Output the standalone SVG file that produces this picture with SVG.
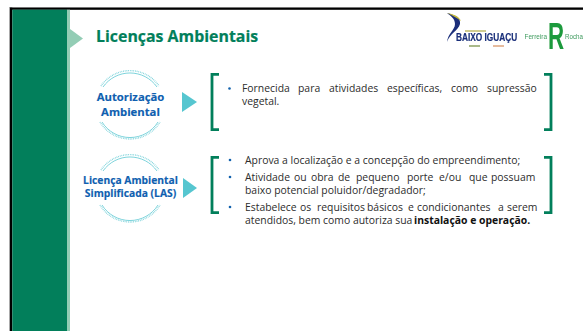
<svg xmlns="http://www.w3.org/2000/svg" width="583" height="331" viewBox="0 0 583 331">
<defs><filter id="soft" x="-5%" y="-5%" width="110%" height="110%"><feGaussianBlur stdDeviation="0.35"/></filter></defs>
<style>
text{font-family:"Open Sans","Noto Sans","Liberation Sans",sans-serif}
.b{font-size:10.4px;fill:#2c2c2c}
.lb{font-weight:700;fill:#0f5fb0;stroke:#0f5fb0;stroke-width:.15;text-anchor:middle}
.brk{fill:none;stroke:#027f5b;stroke-width:2.8}
.arc{fill:none;stroke:#5cc8d2;stroke-width:.8}
.arcd{fill:none;stroke:#7cd2da;stroke-width:1.4;stroke-dasharray:.8 .9}
.tri{fill:#56c6d0}
.dot{fill:#1262ad}
.lg{font-family:"Liberation Sans",sans-serif}
</style>
<rect width="583" height="331" fill="#fff"/>
<g id="frame">
<rect x="9" y="7" width="574" height="3" fill="#aaa"/>
<rect x="9" y="7" width="1.200" height="324" fill="#aaa"/>
<rect x="10" y="7.700" width="573" height="2" fill="#000"/>
<rect x="10" y="7.700" width="2.300" height="323.300" fill="#000"/>
<rect x="12.300" y="9.700" width="54.700" height="321.300" fill="#027f5b"/>
<rect x="67" y="9.700" width="3" height="321.300" fill="#93cdb5"/>
<polygon points="70,29 83,38.500 70,48" fill="#93cdb5"/>
</g>
<g id="title"><text x="96" y="42" font-size="15.900" font-weight="700" fill="#027f5b" stroke="#027f5b" stroke-width=".2">Licenças Ambientais</text></g>
<g id="logos" filter="url(#soft)">
<path d="M447 13C455 15 461 18 460 24C458 31 450 33 447 42C448 33 455 30 455 24C455 19 451 16 447 13Z" fill="#1a2f7a"/>
<path d="M447 13C453 14 459 16 461 21C457 18 452 15 447 13Z" fill="#c4b83a"/>
<text class="lg" transform="translate(456 41) scale(.83 1)" font-size="10" font-weight="700" fill="#1a2f7a" stroke="#1a2f7a" stroke-width=".2">BAIXO IGUAÇU</text>
<rect x="465" y="30" width="21" height="2" fill="#d0cc90"/>
<rect x="469" y="45" width="11" height="2" fill="#a9b98a"/>
<rect x="493" y="45" width="11" height="2" fill="#e6bb9e"/>
<text class="lg" transform="translate(524.500 39) scale(.87 1)" font-size="7.400" fill="#3f9b5f">Ferreira</text>
<text class="lg" transform="translate(548 49) scale(.62 1)" font-size="36" font-weight="700" fill="#1f9a3c">R</text>
<text class="lg" transform="translate(565 39) scale(.84 1)" font-size="7.400" fill="#3f9b5f">Rocha</text>
</g>
<g id="node-autorizacao">
<path class="arc" d="M103 87A33 33 0 0 1 157 87"/><path class="arcd" d="M101 86A35 35 0 0 1 159 86"/>
<path class="arc" d="M102 122A33 33 0 0 0 158 122"/><path class="arcd" d="M100 122A35 35 0 0 0 160 122"/>
<text class="lb" x="130.500" y="101" font-size="11.300">Autorização</text>
<text class="lb" x="130.500" y="116" font-size="11.300">Ambiental</text>
</g>
<g id="node-las">
<path class="arc" d="M103 171A33 33 0 0 1 157 171"/><path class="arcd" d="M101 170A35 35 0 0 1 159 170"/>
<path class="arc" d="M102 205A33 33 0 0 0 158 205"/><path class="arcd" d="M100 205A35 35 0 0 0 160 205"/>
<text class="lb" x="130.500" y="184" font-size="10.300">Licença Ambiental</text>
<text class="lb" x="130.500" y="197" font-size="10.300">Simplificada (LAS)</text>
</g>
<g id="connectors">
<polygon class="tri" points="182,92 197,102 182,112"/>
<polygon class="tri" points="183,178 197,188 183,198"/>
</g>
<g id="desc-autorizacao">
<path class="brk" d="M219 74.300H212V129.700H219"/>
<path class="brk" d="M544 74.300H551V129.700H544"/>
<circle class="dot" cx="229.500" cy="88.500" r="1.300"/>
<text class="b" y="92"><tspan x="242">Fornecida </tspan><tspan x="298">para </tspan><tspan x="329">atividades </tspan><tspan x="387">específicas, </tspan><tspan x="451">como </tspan><tspan x="487">supressão</tspan></text>
<text class="b" x="242" y="105">vegetal.</text>
</g>
<g id="desc-las">
<path class="brk" d="M219 157.300H212V212.700H219"/>
<path class="brk" d="M544 157.300H551V212.700H544"/>
<circle class="dot" cx="230" cy="160" r="1.300"/>
<circle class="dot" cx="230" cy="177" r="1.300"/>
<circle class="dot" cx="230" cy="207" r="1.300"/>
<text class="b" x="245" y="164">Aprova a localização e a concepção do empreendimento;</text>
<text class="b" y="181"><tspan x="245">Atividade </tspan><tspan x="294">ou </tspan><tspan x="311">obra </tspan><tspan x="338">de </tspan><tspan x="356">pequeno </tspan><tspan x="407">porte </tspan><tspan x="439">e/ou </tspan><tspan x="469">que </tspan><tspan x="491">possuam</tspan></text>
<text class="b" x="245" y="194">baixo potencial poluidor/degradador;</text>
<text class="b" y="211"><tspan x="245">Estabelece </tspan><tspan x="300">os </tspan><tspan x="317">requisitos </tspan><tspan x="367">básicos </tspan><tspan x="408">e </tspan><tspan x="417">condicionantes </tspan><tspan x="498">a </tspan><tspan x="507">serem</tspan></text>
<text class="b" x="245" y="224">atendidos, bem como autoriza sua <tspan x="414" font-weight="700" fill="#111">instalação e operação.</tspan></text>
</g>
</svg>
